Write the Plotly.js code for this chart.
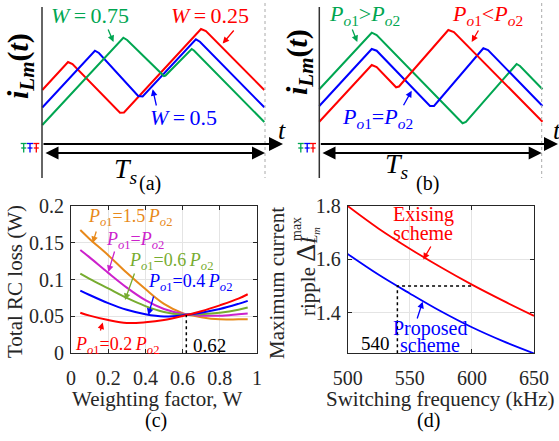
<!DOCTYPE html>
<html><head><meta charset="utf-8">
<script src="https://cdn.plot.ly/plotly-3.0.1.min.js"></script>
<style>html,body{margin:0;padding:0;background:#fff}#plot{width:559px;height:441px}</style>
</head><body><div id="plot"></div>
<script>
// ---------- (a) magnetizing current waveforms vs W (t in Ts, i in a.u.) ----------
const tA_W025 = [0, 0.116, 0.136, 0.350, 0.368, 0.715, 0.737, 1];
const iA_W025 = [0.54, 0.82, 0.80, 0.313, 0.315, 1.15, 1.13, 0.54];
const tA_W050 = [0, 0.237, 0.255, 0.432, 0.452, 0.692, 0.710, 1];
const iA_W050 = [0.365, 0.933, 0.91, 0.48, 0.475, 1.047, 1.023, 0.367];
const tA_W075 = [0, 0.365, 0.382, 0.548, 0.555, 0.673, 0.683, 1];
const iA_W075 = [0.19, 1.063, 1.04, 0.68, 0.685, 0.95, 0.935, 0.22];
// ---------- (b) waveforms vs power split ----------
const tB_gt = [0, 0.235, 0.257, 0.642, 0.657, 0.884, 0.899, 1];
const iB_gt = [0.547, 1.113, 1.09, 0.207, 0.22, 0.80, 0.78, 0.547];
const tB_eq = [0, 0.235, 0.257, 0.496, 0.514, 0.735, 0.756, 1];
const iB_eq = [0.38, 0.95, 0.933, 0.38, 0.38, 0.957, 0.94, 0.38];
const tB_lt = [0, 0.235, 0.257, 0.344, 0.357, 0.578, 0.603, 1];
const iB_lt = [0.223, 0.79, 0.77, 0.567, 0.575, 1.14, 1.12, 0.223];
// ---------- (c) total RC loss vs weighting factor ----------
const weight = [0.05, 0.1, 0.2, 0.3, 0.4, 0.5, 0.6, 0.7, 0.8, 0.9, 0.95];
const loss_15 = [0.167, 0.155, 0.133, 0.109, 0.087, 0.067, 0.0545, 0.049, 0.046, 0.046, 0.046];
const loss_10 = [0.140, 0.130, 0.109, 0.089, 0.072, 0.060, 0.0535, 0.051, 0.051, 0.053, 0.054];
const loss_06 = [0.108, 0.101, 0.088, 0.075, 0.064, 0.056, 0.0525, 0.053, 0.055, 0.059, 0.062];
const loss_04 = [0.085, 0.079, 0.068, 0.059, 0.053, 0.050, 0.0515, 0.055, 0.060, 0.067, 0.071];
const loss_02 = [0.055, 0.051, 0.045, 0.041, 0.042, 0.045, 0.0505, 0.057, 0.065, 0.074, 0.080];
const wOpt = 0.62, lossOpt = 0.052;
// ---------- (d) max current ripple vs switching frequency ----------
const freq = [500, 525, 550, 575, 600, 625, 650];
const rip_existing = [1.80, 1.715, 1.640, 1.570, 1.505, 1.445, 1.388];
const rip_proposed = [1.620, 1.542, 1.472, 1.405, 1.345, 1.293, 1.247];
const fProposed = 540, fExisting = 600, ripLevel = 1.5, ripMin = 1.2475;

const Wd = 559, Hd = 441;
const fx = x => x / Wd, fy = y => 1 - y / Hd;
const SERIF = "Liberation Serif";
const RED = '#ff0000', BLUE = '#0000ff', GRN = '#00a651';
const ORG = '#e8891a', MAG = '#cc22cc', LGR = '#77ac30';

const traces = [];
function line(x, y, color, xa, ya, extra) {
  traces.push(Object.assign({x, y, xaxis: xa, yaxis: ya, mode: 'lines', type: 'scatter',
    line: {color, width: 2}, hoverinfo: 'skip', showlegend: false}, extra || {}));
}
line(tA_W025, iA_W025, RED, 'x', 'y');
line(tA_W050, iA_W050, BLUE, 'x', 'y');
line(tA_W075, iA_W075, GRN, 'x', 'y');
line(tB_gt, iB_gt, GRN, 'x2', 'y2');
line(tB_eq, iB_eq, BLUE, 'x2', 'y2');
line(tB_lt, iB_lt, RED, 'x2', 'y2');
line(weight, loss_15, ORG, 'x3', 'y3', {line: {color: ORG, width: 2, shape: 'spline'}});
line(weight, loss_10, MAG, 'x3', 'y3', {line: {color: MAG, width: 2, shape: 'spline'}});
line(weight, loss_06, LGR, 'x3', 'y3', {line: {color: LGR, width: 2, shape: 'spline'}});
line(weight, loss_04, BLUE, 'x3', 'y3', {line: {color: BLUE, width: 2, shape: 'spline'}});
line(weight, loss_02, RED, 'x3', 'y3', {line: {color: RED, width: 2, shape: 'spline'}});
line([wOpt, wOpt], [0, lossOpt], '#000', 'x3', 'y3', {line: {color: '#000', width: 1.5, dash: 'dot'}});
line(freq, rip_existing, RED, 'x4', 'y4', {line: {color: RED, width: 1.8, shape: 'spline'}});
line(freq, rip_proposed, BLUE, 'x4', 'y4', {line: {color: BLUE, width: 1.8, shape: 'spline'}});
line([fProposed, fProposed, fExisting], [ripMin, ripLevel, ripLevel], '#000', 'x4', 'y4',
  {line: {color: '#000', width: 1.5, dash: 'dot'}});

const ann = [];
function txt(text, x, y, size, color, extra) {
  ann.push(Object.assign({xref: 'paper', yref: 'paper', x: fx(x), y: fy(y), text, showarrow: false,
    font: {family: SERIF, size, color}, xanchor: 'center', yanchor: 'middle'}, extra || {}));
}
function arr(hx, hy, tx, ty, color, w, sz, extra) {
  ann.push(Object.assign({xref: 'paper', yref: 'paper', x: fx(hx), y: fy(hy), ax: tx - hx, ay: ty - hy,
    axref: 'pixel', ayref: 'pixel', text: '', showarrow: true, arrowhead: 2, arrowsize: sz,
    arrowwidth: w, arrowcolor: color, standoff: 0, startstandoff: 0}, extra || {}));
}
const shapes = [];
function seg(x0, y0, x1, y1, color, w, dash) {
  shapes.push({type: 'line', xref: 'paper', yref: 'paper', x0: fx(x0), y0: fy(y0), x1: fx(x1), y1: fy(y1),
    line: {color, width: w, dash: dash || 'solid'}});
}
function gnd(cx, color) {
  seg(cx - 3, 143.5, cx + 3, 143.5, color, 1.3);
  seg(cx, 143.5, cx, 152.5, color, 1.3);
  seg(cx - 2.5, 148, cx + 2.5, 148, color, 1.3);
}
// ----- (a) decorations -----
seg(42, 7, 42, 178, '#333', 1.5);
seg(265, 3, 265, 178, '#aaa', 1, 'dot');
arr(283, 144, 42, 144, '#000', 2, 1.4);
arr(265, 153, 44, 153, '#000', 2, 1.3, {arrowside: 'end+start'});
gnd(23.7, GRN); gnd(30, BLUE); gnd(36.3, RED);
const iLab = "<b><i>i</i><sub><i>Lm</i></sub>(<i>t</i>)</b>";
txt(iLab, 20, 66, 30, '#000', {textangle: -90});
txt('<i>t</i>', 282, 131, 26, '#000');
txt('<i>T</i><sub><i>s</i></sub>', 126, 170, 28, '#000');
txt('(a)', 150, 184, 20, '#000');
txt('<i>W</i>\u2009=\u20090.75', 90, 16, 22, GRN);
txt('<i>W</i>\u2009=\u20090.25', 210, 16, 22, RED);
txt('<i>W</i>\u2009=\u20090.5', 183, 117, 22, BLUE);
arr(113.5, 42, 107.5, 28, GRN, 1.3, 1);
arr(222.7, 43.5, 235, 29, RED, 1.3, 1);
arr(152.7, 89.3, 156.7, 107, BLUE, 1.3, 1);
// ----- (b) decorations -----
seg(319.3, 7, 319.3, 178, '#333', 1.5);
seg(541.7, 3, 541.7, 178, '#aaa', 1, 'dot');
arr(558, 144, 319.3, 144, '#000', 2, 1.4);
arr(541.7, 153, 321, 153, '#000', 2, 1.3, {arrowside: 'end+start'});
gnd(300.8, GRN); gnd(307.2, BLUE); gnd(313, RED);
txt(iLab, 299, 62, 30, '#000', {textangle: -90});
txt('<i>t</i>', 557, 131, 26, '#000');
txt('<i>T</i><sub><i>s</i></sub>', 397, 165, 28, '#000');
txt('(b)', 427, 184, 20, '#000');
const Po1 = '<i>P</i><sub><i>o</i>1</sub>', Po2 = '<i>P</i><sub><i>o</i>2</sub>';
txt(Po1 + '&gt;' + Po2, 365, 15, 22, GRN);
txt(Po1 + '&lt;' + Po2, 488, 15, 22, RED);
txt(Po1 + '=' + Po2, 377, 118, 22, BLUE);
arr(357.3, 42, 351.7, 28, GRN, 1.3, 1);
arr(471.7, 42, 479.3, 29, RED, 1.3, 1);
arr(411.7, 90.7, 402.7, 106.7, BLUE, 1.3, 1);
// ----- (c) labels -----
txt(Po1 + '=1.5\u2009' + Po2, 130, 218, 18, ORG);
txt(Po1 + '=' + Po2, 135, 240, 18, MAG);
txt(Po1 + '=0.6\u2009' + Po2, 171, 261, 18, LGR);
txt(Po1 + '=0.4\u2009' + Po2, 190, 282, 18, BLUE);
txt(Po1 + '=0.2\u2009' + Po2, 117, 345, 18, RED);
txt('0.62', 209, 345, 19, '#000');
arr(92.7, 243, 96.7, 230, ORG, 1.3, 1);
arr(108.3, 272, 115, 250, MAG, 1.3, 1);
arr(125, 300, 135, 272, LGR, 1.3, 1);
arr(148.3, 315, 154, 295, BLUE, 1.3, 1);
arr(102.7, 322.5, 100, 332, RED, 1.3, 1);
txt('Total RC loss (W)', 15, 282, 21, '#262626', {textangle: -90});
txt('Weighting factor, W', 157, 399, 21, '#262626');
txt('(c)', 156, 420, 20, '#000');
// ----- (d) labels -----
txt('Exising', 423, 215, 20, RED);
txt('scheme', 423, 233, 20, RED);
arr(423.3, 259.5, 431.7, 245, RED, 1.3, 1);
txt('Proposed', 430, 328, 20, BLUE);
txt('scheme', 430, 345, 20, BLUE);
arr(422.7, 301.7, 416.7, 320, BLUE, 1.3, 1);
txt('540', 375, 343, 19, '#000');
txt('Maximum current', 277, 283, 21, '#262626', {textangle: -90});
txt('ripple <span style="font-size:28px">\u0394</span><i>I</i>', 305, 276, 21, '#262626', {textangle: -90});
txt('max', 297, 229, 14, '#262626', {textangle: -90});
txt('<i>L<sub>m</sub></i>', 313, 236, 15, '#262626', {textangle: -90});
txt('Switching frequency (kHz)', 440, 399, 21, '#262626');
txt('(d)', 428, 420, 20, '#000');

const hidden = {visible: false, showgrid: false, zeroline: false, fixedrange: true};
const frameAx = {showline: true, mirror: 'ticks', linecolor: '#262626', linewidth: 1, ticks: 'inside',
  ticklen: 4, tickcolor: '#262626', showgrid: true, gridcolor: '#e4e4e4', gridwidth: 1, zeroline: false,
  tickfont: {family: SERIF, size: 20, color: '#262626'}};

const layout = {
  width: Wd, height: Hd, margin: {l: 0, r: 0, t: 0, b: 0}, paper_bgcolor: '#fff', plot_bgcolor: 'rgba(0,0,0,0)',
  showlegend: false,
  xaxis: Object.assign({}, hidden, {domain: [0, 285 / Wd], range: [-42.3 / 222, 242.7 / 222]}),
  yaxis: Object.assign({}, hidden, {domain: [fy(190), 1], range: [-0.46, 1.44]}),
  xaxis2: Object.assign({}, hidden, {domain: [285 / Wd, 1], range: [(285 - 319.3) / 223.2, (559 - 319.3) / 223.2]}),
  yaxis2: Object.assign({}, hidden, {domain: [fy(190), 1], range: [-0.46, 1.44]}),
  xaxis3: Object.assign({}, frameAx, {domain: [fx(71), fx(257)], range: [0, 1], dtick: 0.2, anchor: 'y3', ticklabelstandoff: 7}),
  yaxis3: Object.assign({}, frameAx, {domain: [fy(353.3), fy(205.7)], range: [0, 0.2], dtick: 0.05, anchor: 'x3', ticklabelstandoff: 2}),
  xaxis4: Object.assign({}, frameAx, {domain: [fx(347.7), fx(534)], range: [500, 650], dtick: 50, anchor: 'y4', ticklabelstandoff: 7}),
  yaxis4: Object.assign({}, frameAx, {domain: [fy(353.3), fy(206)], range: [ripMin, 1.8], dtick: 0.2, anchor: 'x4', ticklabelstandoff: 2}),
  annotations: ann, shapes: shapes
};
Plotly.newPlot('plot', traces, layout, {staticPlot: true, displayModeBar: false});
</script></body></html>
